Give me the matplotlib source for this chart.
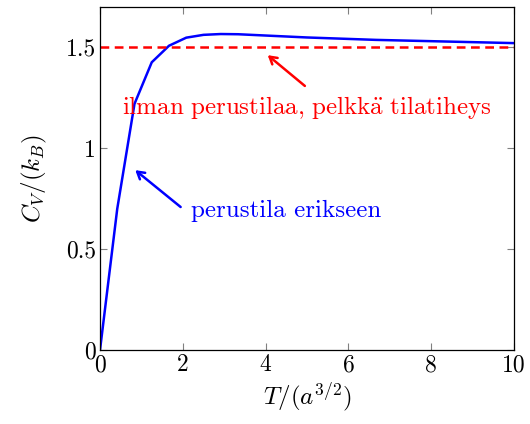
import matplotlib
matplotlib.use("Agg")
import matplotlib.pyplot as plt
from matplotlib.ticker import FixedLocator

plt.rcParams['mathtext.fontset'] = 'cm'
plt.rcParams['font.family'] = ['cmr10', 'DejaVu Serif']
plt.rcParams['axes.formatter.use_mathtext'] = True

# Data
T = [0.0, 0.4167, 0.8333, 1.25, 1.6667, 2.0833, 2.5, 2.9167, 3.3333, 3.75,
     4.1667, 4.5833, 5.0, 5.4167, 5.8333, 6.25, 6.6667, 7.0833, 7.5, 7.9167,
     8.3333, 8.75, 9.1667, 9.5833, 10.0]
Cv = [0.0, 0.70, 1.22, 1.426, 1.508, 1.548, 1.562, 1.566, 1.565, 1.561,
      1.557, 1.553, 1.549, 1.546, 1.543, 1.540, 1.537, 1.535, 1.533, 1.531,
      1.529, 1.527, 1.525, 1.523, 1.521]
classical_limit = 1.5
xticks = [0, 2, 4, 6, 8, 10]
yticks = [0, 0.5, 1, 1.5]
ytick_labels = ['0', '0.5', '1', '1.5']
label_red = r'$\mathrm{ilman\ perustilaa{,}\ pelkk\ddot{a}\ tilatiheys}$'
label_blue = 'perustila erikseen'

FS = 17
FSL = 18

fig = plt.figure(figsize=(5.30, 4.24), dpi=100)
ax = fig.add_axes([100/530, 1-350/424, 414/530, 343/424])

ax.plot(T, Cv, color='#0000ff', lw=1.8, solid_joinstyle='miter')
ax.axhline(classical_limit, color='#ff0000', lw=1.8, dashes=(3.5, 2.2))

ax.set_xlim(0, 10)
ax.set_ylim(0, 1.7)
ax.xaxis.set_major_locator(FixedLocator(xticks))
ax.yaxis.set_major_locator(FixedLocator(yticks))
ax.set_yticklabels(ytick_labels)
ax.set_xticklabels([str(t) for t in xticks])
ax.tick_params(direction='in', length=5, width=0.8, color='#808080',
               top=True, right=True, labelsize=FS, pad=3)
for s in ax.spines.values():
    s.set_linewidth(0.9)

ax.set_xlabel(r'$T/(a^{3/2})$', fontsize=FSL, labelpad=3)
ax.set_ylabel(r'$C_V/(k_B)$', fontsize=FSL, labelpad=12)

ax.annotate('', xy=(4.0, 1.47), xytext=(5.0, 1.3),
            arrowprops=dict(arrowstyle='->,head_length=0.5,head_width=0.3', color='#ff0000', lw=1.8))
ax.text(5.0, 1.2, label_red, color='#ff0000',
        fontsize=FSL, ha='center', va='center')

ax.annotate('', xy=(0.8, 0.9), xytext=(2.0, 0.7),
            arrowprops=dict(arrowstyle='->,head_length=0.5,head_width=0.3', color='#0000ff', lw=1.8))
ax.text(2.2, 0.69, label_blue, color='#0000ff',
        fontsize=FSL, ha='left', va='center')

fig.savefig('out.png', dpi=100)
